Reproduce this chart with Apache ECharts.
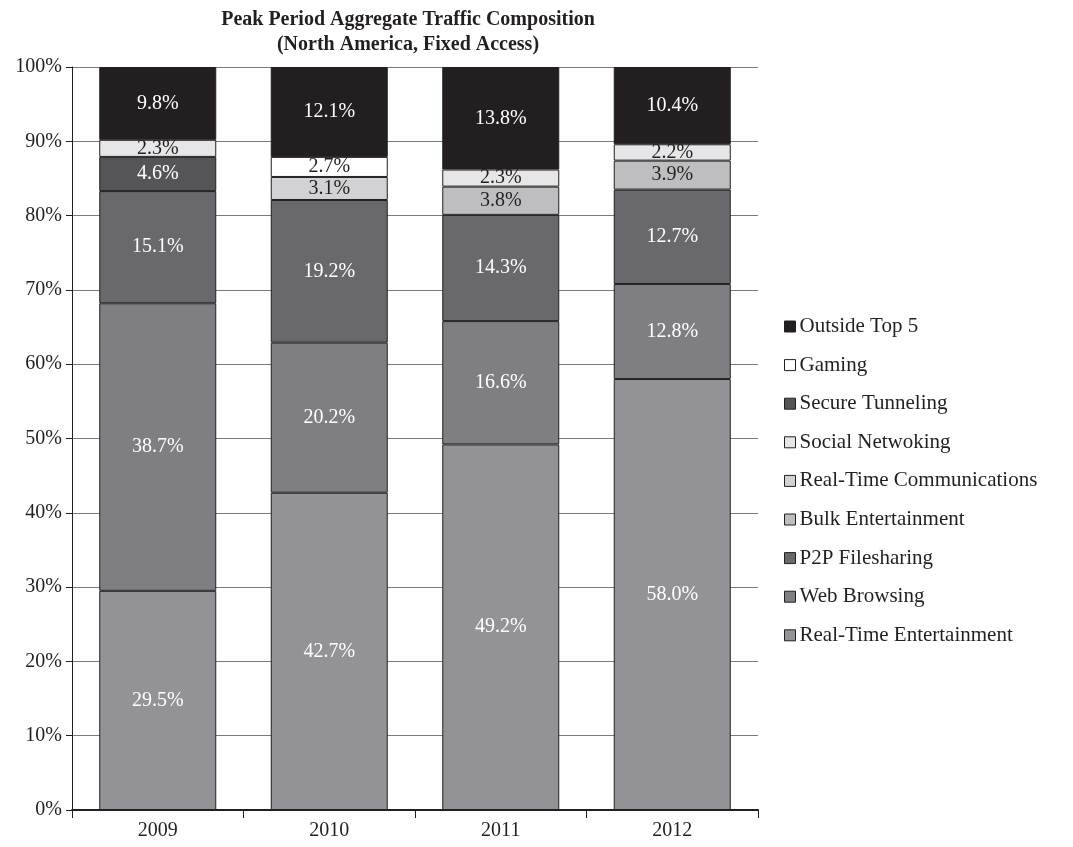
<!DOCTYPE html>
<html>
<head>
<meta charset="utf-8">
<script src="https://cdn.jsdelivr.net/npm/echarts@6/dist/echarts.min.js"></script>
<style>
  html, body { margin: 0; padding: 0; background: #ffffff; }
  #chart { width: 1073px; height: 847px; }
</style>
</head>
<body>
<div id="chart"></div>
<script>
// Traffic share (%) by application category, peak period, fixed access
const years = ['2009', '2010', '2011', '2012'];

const realTimeEntertainment = [29.5, 42.7, 49.2, 58.0];
const webBrowsing           = [38.7, 20.2, 16.6, 12.8];
const p2pFilesharing        = [15.1, 19.2, 14.3, 12.7];
const bulkEntertainment     = [null, null, 3.8, 3.9];
const realTimeComms         = [null, 3.1, null, null];
const secureTunneling       = [4.6, null, null, null];
const socialNetworking      = [2.3, null, 2.3, 2.2];
const gaming                = [null, 2.7, null, null];
const outsideTop5           = [9.8, 12.1, 13.8, 10.4];

const yTicks = [0, 10, 20, 30, 40, 50, 60, 70, 80, 90, 100];

// Legend reads top-down, reverse of the stacking order
const legendOrder = [
  'Outside Top 5', 'Gaming', 'Secure Tunneling', 'Social Netwoking',
  'Real-Time Communications', 'Bulk Entertainment', 'P2P Filesharing',
  'Web Browsing', 'Real-Time Entertainment'
];

const FONT = '"Liberation Serif", "DejaVu Serif", serif';
const INK = '#231f20';

function stackSeries(name, data, color, labelColor) {
  return {
    name: name,
    type: 'bar',
    stack: 'total',
    data: data,
    barWidth: 117,
    itemStyle: { color: color, borderColor: INK, borderWidth: 1 },
    label: {
      show: true,
      position: 'inside',
      color: labelColor,
      fontFamily: FONT,
      fontSize: 20,
      formatter: p => p.value == null ? '' : p.value.toFixed(1) + '%'
    },
    emphasis: { disabled: true }
  };
}

const chart = echarts.init(document.getElementById('chart'), null, { renderer: 'canvas' });

chart.setOption({
  animation: false,
  backgroundColor: '#ffffff',
  title: {
    text: 'Peak Period Aggregate Traffic Composition\n(North America, Fixed Access)',
    left: 403,
    top: 2,
    textAlign: 'center',
    textStyle: {
      fontFamily: FONT,
      fontWeight: 'bold',
      fontSize: 20,
      lineHeight: 25,
      color: INK
    }
  },
  legend: {
    data: legendOrder,
    orient: 'vertical',
    left: 779,
    top: 310,
    itemGap: 15.6,
    itemWidth: 11,
    itemHeight: 11,
    icon: 'rect',
    itemStyle: { borderColor: INK, borderWidth: 1 },
    selectedMode: false,
    textStyle: { fontFamily: FONT, fontSize: 21, lineHeight: 23, color: INK, padding: [0, 0, 0, -1] }
  },
  grid: { left: 72, right: 315, top: 67, bottom: 37, containLabel: false },
  xAxis: {
    type: 'category',
    data: years,
    axisLine: { lineStyle: { color: INK, width: 2 } },
    axisTick: { show: true, length: 8, lineStyle: { color: INK, width: 1 } },
    axisLabel: { fontFamily: FONT, fontSize: 20, color: INK, margin: 11 }
  },
  yAxis: {
    type: 'value',
    min: yTicks[0],
    max: yTicks[yTicks.length - 1],
    interval: 10,
    axisLine: { show: true, lineStyle: { color: INK, width: 1 } },
    axisTick: { show: true, length: 6, lineStyle: { color: INK } },
    axisLabel: { fontFamily: FONT, fontSize: 20, color: INK, margin: 10, formatter: '{value}%' },
    splitLine: { show: true, lineStyle: { color: '#7a7a7a', width: 1 } }
  },
  series: [
    stackSeries('Real-Time Entertainment', realTimeEntertainment, '#939397', '#ffffff'),
    stackSeries('Web Browsing', webBrowsing, '#7f7f83', '#ffffff'),
    stackSeries('P2P Filesharing', p2pFilesharing, '#69696d', '#ffffff'),
    stackSeries('Bulk Entertainment', bulkEntertainment, '#bebec0', INK),
    stackSeries('Real-Time Communications', realTimeComms, '#d2d2d4', INK),
    stackSeries('Secure Tunneling', secureTunneling, '#555558', '#ffffff'),
    stackSeries('Social Netwoking', socialNetworking, '#e6e6e8', INK),
    stackSeries('Gaming', gaming, '#ffffff', INK),
    stackSeries('Outside Top 5', outsideTop5, INK, '#ffffff')
  ]
});
</script>
</body>
</html>
